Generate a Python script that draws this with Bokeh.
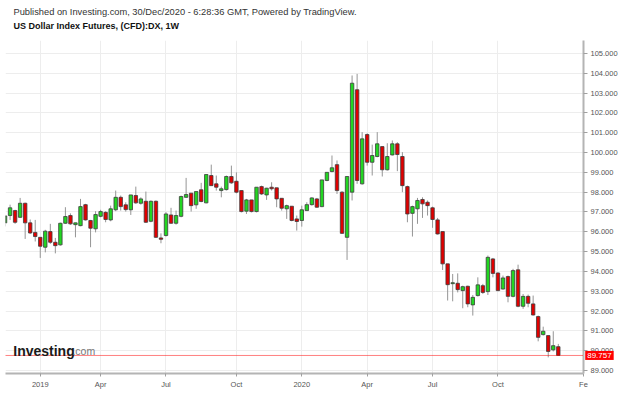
from bokeh.plotting import figure
from bokeh.models import ColumnDataSource, FixedTicker, NumeralTickFormatter, Span, Label, Range1d, Title
from bokeh.embed import file_html
from bokeh.resources import INLINE

# Weekly bars, index 0 = first weekly bar of 2019 (week of 7 Jan 2019)
first_bar = -7
opens = [96.45, 96.82, 97.07, 96.73, 97.44, 96.45, 95.97,
         95.72, 95.22, 96.01, 95.47, 95.34, 96.43, 96.82, 96.36, 96.31, 97.37,
         96.57, 96.15, 96.78, 96.98, 96.60, 97.11, 97.74, 97.36, 97.11, 97.83,
         97.44, 97.54, 96.53, 97.54, 95.69, 95.81, 96.85, 96.43, 96.78, 97.74,
         97.95, 97.36, 98.12, 97.46, 98.84, 98.42, 98.08, 98.13, 98.79, 98.55,
         98.08, 97.04, 97.61, 97.02, 98.28, 97.86, 98.25, 98.22, 97.69, 97.16,
         97.29, 96.65, 96.57, 97.07, 97.37, 97.66, 97.27, 98.59, 99.04, 99.39,
         98.00, 95.72, 98.00, 103.17, 98.42, 100.91, 99.51, 99.80, 100.30, 99.13,
         99.88, 100.44, 99.80, 98.28, 96.93, 97.16, 97.63, 97.49, 97.21, 96.60,
         96.01, 94.38, 93.38, 93.40, 93.03, 93.25, 92.31, 92.78, 93.28, 92.98,
         94.63, 93.92, 93.11, 93.74, 92.74, 94.08, 92.24, 92.74, 92.36, 91.72,
         90.81, 90.76, 90.04, 90.20]
highs = [96.85, 97.37, 97.11, 97.71, 97.47, 96.62, 96.60,
         95.72, 96.10, 96.40, 95.69, 96.46, 97.24, 96.93, 96.46, 97.66, 97.41,
         96.60, 97.04, 97.11, 97.04, 97.32, 98.08, 97.83, 97.49, 97.86, 98.28,
         97.74, 98.03, 97.58, 97.58, 95.92, 96.99, 97.21, 97.07, 97.83, 98.72,
         97.95, 98.03, 98.47, 98.89, 99.39, 98.84, 98.28, 98.84, 99.34, 99.00,
         98.08, 97.66, 97.61, 98.25, 98.33, 98.22, 98.50, 98.22, 97.69, 97.37,
         97.29, 96.82, 97.32, 97.49, 97.74, 97.71, 98.62, 99.00, 99.85, 99.60,
         98.05, 98.79, 103.89, 103.97, 101.03, 100.97, 100.40, 101.03, 100.30, 100.47,
         100.61, 100.52, 100.02, 98.33, 97.32, 97.71, 97.74, 97.58, 97.27, 96.70,
         96.01, 94.38, 93.87, 93.90, 93.28, 93.28, 92.81, 93.70, 93.37, 94.80,
         94.68, 93.95, 93.79, 93.79, 94.13, 94.34, 92.86, 92.83, 92.78, 91.77,
         91.21, 90.76, 90.98, 90.34]
lows = [96.27, 96.60, 96.40, 96.70, 95.64, 95.89, 95.51,
        94.68, 94.96, 95.39, 94.91, 95.30, 96.40, 96.35, 95.72, 96.28, 96.57,
        95.22, 95.97, 96.73, 96.48, 96.53, 97.04, 97.07, 97.02, 96.85, 97.41,
        97.37, 96.45, 96.48, 95.69, 95.42, 95.76, 96.40, 96.36, 96.73, 97.71,
        97.02, 97.16, 97.49, 97.44, 98.33, 98.08, 97.74, 98.08, 98.42, 97.94,
        96.98, 96.90, 96.98, 96.98, 97.86, 97.61, 98.08, 97.24, 97.07, 96.65,
        96.53, 96.06, 96.26, 97.07, 97.32, 97.21, 97.24, 98.55, 99.00, 97.91,
        95.89, 94.58, 97.58, 98.42, 98.38, 99.34, 98.84, 99.76, 98.79, 99.09,
        99.85, 99.06, 98.00, 96.48, 95.76, 96.40, 96.70, 96.82, 96.20, 95.86,
        94.07, 92.53, 92.49, 92.94, 92.14, 92.19, 91.77, 92.73, 92.86, 92.81,
        93.70, 93.00, 93.08, 92.44, 92.69, 92.19, 92.11, 92.19, 91.77, 90.47,
        90.76, 89.66, 89.96, 89.73]
closes = [96.80, 97.21, 96.48, 97.44, 96.45, 95.94, 95.76,
          95.27, 96.03, 95.47, 95.30, 96.43, 96.77, 96.40, 96.45, 97.27, 96.60,
          96.18, 96.87, 97.02, 96.62, 97.16, 97.74, 97.27, 97.12, 97.86, 97.46,
          97.66, 96.48, 97.54, 95.72, 95.62, 96.90, 96.43, 96.82, 97.78, 97.88,
          97.32, 98.03, 97.53, 98.89, 98.33, 98.25, 98.17, 98.79, 98.47, 98.00,
          97.02, 97.61, 97.02, 98.25, 97.91, 98.20, 98.17, 97.66, 97.19, 97.32,
          96.57, 96.52, 97.11, 97.37, 97.71, 97.24, 98.62, 99.00, 99.23, 98.08,
          95.92, 98.79, 103.50, 98.59, 100.69, 99.51, 99.85, 100.44, 99.13, 99.80,
          100.44, 99.90, 98.33, 96.90, 97.27, 97.58, 97.41, 97.32, 96.62, 95.89,
          94.38, 93.33, 93.43, 93.08, 93.23, 92.36, 92.69, 93.32, 92.94, 94.71,
          93.90, 93.03, 93.67, 92.74, 94.04, 92.24, 92.74, 92.39, 91.80, 90.67,
          90.98, 89.96, 90.25, 89.757]

month_bars = [0, 12, 25, 39, 52, 65, 78, 91, 108]
month_labels = ["2019", "Apr", "Jul", "Oct", "2020", "Apr", "Jul", "Oct", "Fe"]
price_ticks = list(range(89, 106))
last_price = 89.757

UP, DOWN = "#22d622", "#e00000"
bars = list(range(first_bar, first_bar + len(opens)))
src = ColumnDataSource(dict(
    x=bars, o=opens, h=highs, l=lows, c=closes,
    top=[max(o, c) for o, c in zip(opens, closes)],
    bottom=[min(o, c) for o, c in zip(opens, closes)],
    color=[UP if c >= o else DOWN for o, c in zip(opens, closes)],
))

FONT = "Liberation Sans"
p = figure(width=624, height=395, output_backend="svg", toolbar_location=None,
           x_range=Range1d(-6.91, 108.01), y_range=Range1d(88.846, 105.656),
           y_axis_location="right", min_border_left=5, min_border_right=41,
           min_border_top=40, min_border_bottom=22)
p.outline_line_color = None
p.background_fill_color = "white"

p.xgrid.grid_line_color = "#ededed"
p.ygrid.grid_line_color = "#ededed"

p.segment(x0="x", y0="h", x1="x", y1="l", line_color="#959595", line_width=1, source=src)
p.vbar(x="x", width=0.68, top="top", bottom="bottom", fill_color="color",
       line_color="#3c3c3c", line_width=0.8, source=src)

p.add_layout(Span(location=last_price, dimension="width", line_color="#ff0000",
                  line_dash="1 1", line_width=1))

for ax in (p.xaxis[0], p.yaxis[0]):
    ax.axis_line_color = "#b4b4b4"
    ax.axis_line_width = 2
    ax.major_tick_line_color = "#a0a0a0"
    ax.major_tick_in = 0
    ax.minor_tick_line_color = None
    ax.major_label_text_font = FONT
    ax.major_label_text_font_size = "7.5px"
    ax.major_label_text_color = "#555555"

p.xaxis.ticker = FixedTicker(ticks=month_bars)
p.xaxis.major_label_overrides = {b: t for b, t in zip(month_bars, month_labels)}
p.xaxis.major_tick_out = 3
p.xaxis.major_label_standoff = 3

p.yaxis.ticker = FixedTicker(ticks=price_ticks)
p.yaxis.formatter = NumeralTickFormatter(format="0.000")
p.yaxis.major_tick_out = 4
p.yaxis.major_label_standoff = 3

# price marker: lives in a side panel so it is not clipped to the frame
p.add_layout(Label(x=108.35, y=last_price, text=f"{last_price:.3f}",
                   text_font=FONT, text_font_size="8px", text_color="white",
                   text_align="left", text_baseline="middle",
                   background_fill_color="#ff0000", padding=2), "above")

# header texts
p.add_layout(Title(text="US Dollar Index Futures, (CFD):DX, 1W", align="left", offset=8,
                   standoff=2, text_font=FONT, text_font_size="9px",
                   text_font_style="bold", text_color="#111111"), "above")
p.add_layout(Title(text="Published on Investing.com, 30/Dec/2020 - 6:28:36 GMT, Powered by TradingView.",
                   align="left", offset=8, standoff=1, text_font=FONT, text_font_size="9.3px",
                   text_font_style="normal", text_color="#333333"), "above")

# watermark
p.add_layout(Label(x=-5.37, y=89.96, text="Investing", text_font=FONT,
                   text_font_size="14px", text_font_style="bold", text_color="#1a1a1a",
                   text_baseline="alphabetic"))
p.add_layout(Label(x=6.4, y=89.96, text=".com", text_font=FONT,
                   text_font_size="10.5px", text_color="#777777",
                   text_baseline="alphabetic"))

open("out.html", "w").write(file_html(p, INLINE))
